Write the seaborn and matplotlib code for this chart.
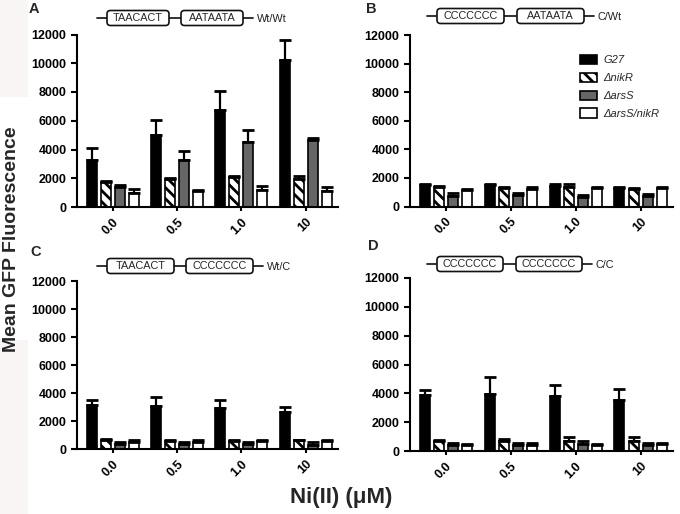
import matplotlib
matplotlib.use("Agg")
import matplotlib.pyplot as plt
import pandas as pd
import seaborn as sns
from matplotlib.patches import Patch, FancyBboxPatch, Rectangle

sns.set_style("ticks")
plt.rcParams['font.family'] = ['Liberation Sans', 'DejaVu Sans']
plt.rcParams['hatch.linewidth'] = 2.0

# data
doses = ["0.0", "0.5", "1.0", "10"]
strains = ["G27", "ΔnikR", "ΔarsS", "ΔarsS/nikR"]
colors = ["#000000", "#ffffff", "#666666", "#ffffff"]
hatches = ["", "\\\\\\", "", ""]

# rows = strains, cols = doses
mean_a = [[3240, 5030, 6720, 10250], [1720, 1930, 2090, 1950],
          [1400, 3290, 4530, 4640], [990, 1080, 1170, 1130]]
sem_a = [[840, 1000, 1320, 1350], [80, 90, 70, 230],
         [140, 610, 830, 140], [230, 120, 280, 250]]

mean_b = [[1480, 1480, 1460, 1320], [1340, 1300, 1390, 1250],
          [760, 790, 690, 720], [1130, 1250, 1270, 1270]]
sem_b = [[60, 60, 80, 60], [60, 50, 150, 30],
         [170, 140, 130, 160], [70, 110, 70, 70]]

mean_c = [[3120, 3050, 2950, 2670], [640, 600, 600, 620],
          [330, 360, 360, 310], [520, 520, 570, 600]]
sem_c = [[400, 640, 550, 310], [50, 30, 20, 20],
         [170, 160, 140, 170], [150, 120, 50, 30]]

mean_d = [[3900, 3980, 3810, 3560], [670, 720, 670, 670],
          [440, 420, 470, 420], [440, 420, 420, 470]]
sem_d = [[330, 1180, 770, 740], [70, 90, 280, 280],
         [140, 110, 200, 110], [70, 110, 70, 90]]

panel_letters = ["A", "B", "C", "D"]
construct_seqs = [["TAACACT", "AATAATA"], ["CCCCCCC", "AATAATA"],
                  ["TAACACT", "CCCCCCC"], ["CCCCCCC", "CCCCCCC"]]
construct_names = ["Wt/Wt", "C/Wt", "Wt/C", "C/C"]

W, H = 680, 514
fig = plt.figure(figsize=(6.8, 5.14), dpi=100)

# overlay in pixel coords for decorations
ov = fig.add_axes([0, 0, 1, 1], zorder=-1)
ov.set_xlim(0, W)
ov.set_ylim(H, 0)
ov.axis("off")
ov.add_patch(Rectangle((0, 0), 28, H, color="#f8f5f4", lw=0))
ov.add_patch(Rectangle((0, 97), 28, 243, color="#ffffff", lw=0))


def px_axes(left, right, top, bottom):
    return fig.add_axes([left / W, 1 - bottom / H, (right - left) / W, (bottom - top) / H])


boxes = [(77, 338, 34.5, 207), (410, 673, 35, 206.5),
         (77, 338, 281, 449), (410, 673, 278, 451)]
means = [mean_a, mean_b, mean_c, mean_d]
sems = [sem_a, sem_b, sem_c, sem_d]

for i in range(4):
    ax = px_axes(*boxes[i])
    ax.set_facecolor("none")
    rows = []
    for s, strain in enumerate(strains):
        for d, dose in enumerate(doses):
            rows.append({"dose": dose, "strain": strain, "value": means[i][s][d]})
    df = pd.DataFrame(rows)
    sns.barplot(data=df, x="dose", y="value", hue="strain", order=doses,
                hue_order=strains, palette=colors, errorbar=None, width=0.87,
                gap=0.29, edgecolor="black", linewidth=1.2, legend=False, ax=ax)
    bar_groups = list(ax.containers)
    for s, cont in enumerate(bar_groups):
        xs, ys = [], []
        for bar in cont:
            bar.set_hatch(hatches[s])
            bar.set_edgecolor("black")
            xs.append(bar.get_x() + bar.get_width() / 2)
            ys.append(bar.get_height())
        ax.errorbar(xs, ys, yerr=[[0] * 4, sems[i][s]], fmt="none", ecolor="black",
                    elinewidth=1.6, capsize=4, capthick=2, zorder=1)
    ax.set_xlim(-0.555, 3.5)
    ax.set_ylim(0, 12000)
    ax.set_yticks(range(0, 12001, 2000))
    ax.set_xlabel("")
    ax.set_ylabel("")
    for side in ["top", "right"]:
        ax.spines[side].set_visible(False)
    for side in ["left", "bottom"]:
        ax.spines[side].set_linewidth(1.5)
        ax.spines[side].set_color("black")
    ax.tick_params(axis="both", width=1.5, length=4, color="black",
                   labelsize=9, labelcolor="black")
    ax.tick_params(axis="x", length=3)
    for lab in ax.get_yticklabels():
        lab.set_fontweight("bold")
    ax.set_xticks(range(4))
    ax.set_xticklabels(doses, rotation=45, ha="right", rotation_mode="anchor",
                       fontweight="bold")

    if i == 1:
        handles = [Patch(facecolor=colors[s], edgecolor="black", hatch=hatches[s],
                         linewidth=1.2) for s in range(4)]
        fig.legend(handles=handles, labels=strains, loc="upper left",
                   bbox_to_anchor=(580 / W, 1 - 55 / H), frameon=False,
                   prop={"style": "italic", "size": 8}, handlelength=1.5,
                   handleheight=0.9, handletextpad=0.6, labelspacing=0.66,
                   borderpad=0, borderaxespad=0)

# panel letters and constructs
letter_pos = [(29, 9), (366, 9), (30, 252), (368, 246)]
# (line start x, centre y, box width, gap between boxes)
construct_pos = [(97, 18, 62, 12), (427, 16, 67, 13), (97, 266, 67, 12), (427, 264, 66, 13)]
for i in range(4):
    ov.text(letter_pos[i][0], letter_pos[i][1], panel_letters[i], fontsize=10.5,
            fontweight="bold", ha="left", va="center")
    x0, yc, box_w, gap = construct_pos[i]
    box_h = 15
    b1 = x0 + 10
    b2 = b1 + box_w + gap
    end = b2 + box_w + 10
    ov.plot([x0, end], [yc, yc], color="#222222", lw=1.3, zorder=1)
    for bx, seq in zip([b1, b2], construct_seqs[i]):
        ov.add_patch(FancyBboxPatch((bx, yc - box_h / 2), box_w, box_h,
                                    boxstyle="round,pad=0,rounding_size=3.5",
                                    facecolor="white", edgecolor="#111111", lw=1.2, zorder=2))
        ov.text(bx + box_w / 2, yc, seq, fontsize=7.8, ha="center", va="center", zorder=3)
    ov.text(end + 4, yc + 1, construct_names[i], fontsize=7.8, ha="left", va="center",
            color="#222222")

ov.text(12, 239, "Mean GFP Fluorescence", rotation=90, fontsize=14,
        fontweight="bold", ha="center", va="center")
ov.text(341, 497, "Ni(II) (μM)", fontsize=16, fontweight="bold",
        ha="center", va="center")

fig.savefig("out.png", dpi=100)
